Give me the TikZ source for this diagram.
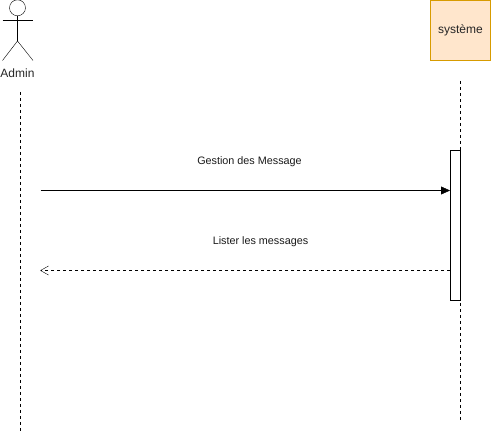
\documentclass[tikz,border=0pt]{standalone}
\usepackage{fontspec}
\setmainfont{Liberation Sans}
\usetikzlibrary{arrows.meta,calc}
\definecolor{boxfill}{HTML}{FFE6CC}
\definecolor{boxline}{HTML}{D79B00}
\definecolor{ink}{HTML}{000000}
\tikzset{
  x=1pt,y=-1pt,
  line width=1pt,
  lifeline/.style={draw=ink,dash pattern=on 3pt off 3pt},
  figure/.style={draw=ink},
  sysbox/.style={draw=boxline,fill=boxfill,line width=1pt,minimum width=60pt,minimum height=60pt,inner sep=0pt,font=\fontsize{12}{14}\selectfont,text=black!85},
  actlabel/.style={inner sep=0pt,font=\fontsize{12}{14}\selectfont,text=black!85},
  msglabel/.style={inner sep=0pt,font=\fontsize{10.8}{13}\selectfont,text=black!90},
  activation/.style={draw=ink,fill=white,line width=1pt,minimum width=10pt,minimum height=150pt,inner sep=0pt},
  call/.style={draw=ink,-{Triangle[length=9pt,width=8pt]}},
  reply/.style={draw=ink,dash pattern=on 3pt off 3pt},
  replyhead/.style={draw=ink,line join=round,line cap=round}
}
\begin{document}
\begin{tikzpicture}
\useasboundingbox (0,0) rectangle (491,433);
% actor
\draw[figure] (17.5,7.8) circle[radius=8pt];
\draw[figure] (17.5,16) -- (17.5,41);
\draw[figure] (2.5,20.5) -- (33,20.5);
\draw[figure] (2.5,60.5) -- (17.5,41) -- (33,60.5);
\node[actlabel] (admin) at (17.5,73.5) {Admin};
% system
\node[sysbox] (sys) at (460.5,30.5) {système};
% lifelines
\coordinate (adminTop) at (20.5,92);
\coordinate (adminEnd) at (20.5,431);
\coordinate (sysTop) at (460.5,81);
\coordinate (sysEnd) at (460.5,421);
\draw[lifeline] (adminTop) -- (adminEnd);
\draw[lifeline] (sysTop) -- (sysEnd);
% activation
\node[activation] (act) at (455.5,225.5) {};
% messages
\coordinate (callStart) at (40.5,190.5);
\coordinate (replyEnd) at (40.5,270.5);
\draw[call] (callStart) -- (callStart -| act.west);
\draw[reply] (replyEnd -| act.west) -- (replyEnd);
\draw[replyhead] ($(replyEnd)+(8,-4.5)$) -- (replyEnd) -- ($(replyEnd)+(8,4.5)$);
\node[msglabel] (m1) at (249.5,161.5) {Gestion des Message};
\node[msglabel] (m2) at (260.5,241.5) {Lister les messages};
\end{tikzpicture}
\end{document}
